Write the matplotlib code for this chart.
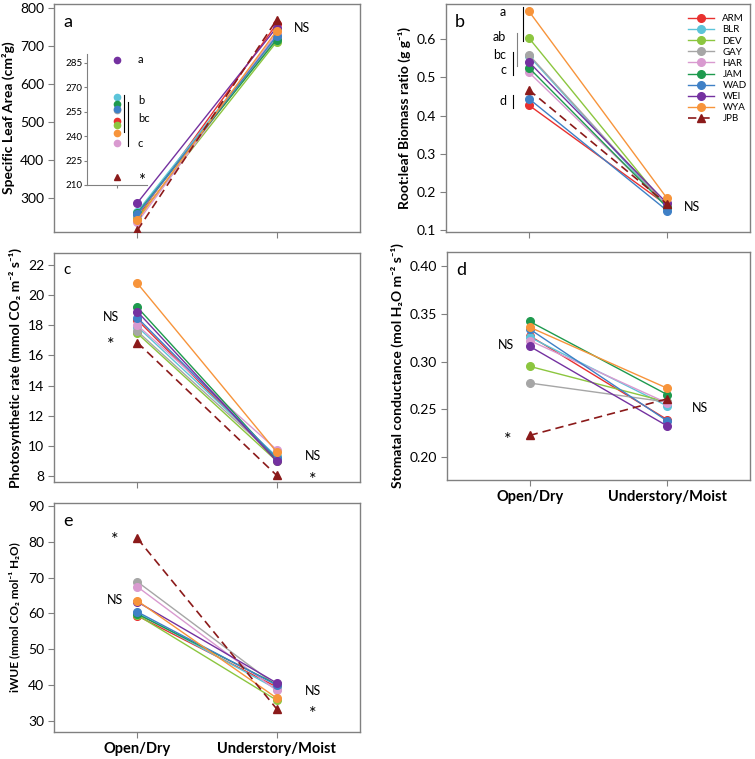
import numpy as np
import matplotlib
matplotlib.use('Agg')
from matplotlib import pyplot as plt

plt.rcParams['font.family'] = ['Lato', 'DejaVu Sans']

# Populations (last one is the reference JPB)
pops = ['ARM', 'BLR', 'DEV', 'GAY', 'HAR', 'JAM', 'WAD', 'WEI', 'WYA', 'JPB']
colors = ['#e8312f', '#5cc4d9', '#8cc63f', '#a6a6a6', '#d99ad0',
          '#1e9a4e', '#3f80c6', '#7431a0', '#f7943b', '#8b1a1a']
envs = ['Open/Dry', 'Understory/Moist']

# Values (open/dry, understory/moist)
sla_open = [249.6, 263.9, 246.6, 256.0, 235.7, 259.8, 257.0, 287.0, 242.0, 214.7]
sla_under = [757, 728, 710, 720, 733, 716, 725, 748, 739, 768]

rlr_open = [0.427, 0.556, 0.603, 0.559, 0.513, 0.525, 0.444, 0.540, 0.673, 0.467]
rlr_under = [0.165, 0.158, 0.160, 0.162, 0.163, 0.160, 0.151, 0.170, 0.183, 0.168]

ps_open = [18.35, 17.9, 17.46, 17.6, 18.0, 19.19, 18.5, 18.9, 20.78, 16.85]
ps_under = [9.1, 9.3, 9.0, 9.2, 9.75, 9.1, 9.2, 8.99, 9.6, 8.05]

gs_open = [0.327, 0.3256, 0.295, 0.2775, 0.322, 0.342, 0.334, 0.316, 0.336, 0.2227]
gs_under = [0.2391, 0.2534, 0.2576, 0.2576, 0.2565, 0.2653, 0.2377, 0.2325, 0.272, 0.261]

wue_open = [59.3, 60.1, 59.5, 68.8, 67.4, 59.8, 60.4, 63.2, 63.5, 80.9]
wue_under = [39.5, 38.9, 35.8, 39.8, 38.5, 40.2, 40.0, 40.6, 36.4, 33.4]

SPINE = '#808080'
W, H = 755, 759

fig = plt.figure(figsize=(7.55, 7.59), dpi=100)

def px_axes(x0, y0, x1, y1):
    # axes from pixel box (top-left origin)
    return fig.add_axes([x0 / W, 1 - y1 / H, (x1 - x0) / W, (y1 - y0) / H])

def style(ax):
    for s in ax.spines.values():
        s.set_color(SPINE)
        s.set_linewidth(1.0)
    ax.tick_params(direction='out', length=4, color=SPINE, labelsize=10, pad=3)
    ax.set_xlim(-0.6, 1.6)
    ax.set_xticks([0, 1])

def draw(ax, openv, underv, ms=5.5):
    for i, p in enumerate(pops):
        if p == 'JPB':
            ax.plot([0, 1], [openv[i], underv[i]], ls=(0, (5, 3)), color=colors[i],
                    marker='^', ms=ms, lw=1.2, label=p, zorder=3)
        else:
            ax.plot([0, 1], [openv[i], underv[i]], '-', color=colors[i],
                    marker='o', ms=ms, lw=1.0, label=p, zorder=2)

LAB = dict(fontsize=10, fontweight='bold', labelpad=4)
STAR = 13

# ---- a ----
axa = px_axes(54, 4, 360, 232)
style(axa)
draw(axa, sla_open, sla_under)
axa.set_ylim(210, 810)
axa.set_yticks([300, 400, 500, 600, 700, 800])
axa.set_xticklabels([])
axa.set_ylabel('Specific Leaf Area (cm²g)', **LAB)
axa.text(0.03, 0.955, 'a', transform=axa.transAxes, fontsize=13, va='top')
axa.text(1.18, 747, 'NS', fontsize=9, ha='center', va='center')

# inset of panel a
ins = px_axes(87, 54, 147, 185)
ins.set_facecolor('none')
for s in ['top', 'right']:
    ins.spines[s].set_visible(False)
for s in ['left', 'bottom']:
    ins.spines[s].set_color(SPINE)
ins.set_xlim(0, 1)
ins.set_ylim(210, 290.5)
ins.set_yticks([210, 225, 240, 255, 270, 285])
ins.set_xticks([0.5])
ins.set_xticklabels([])
ins.tick_params(labelsize=7, length=2, color=SPINE, pad=1)
for i, p in enumerate(pops):
    ins.plot([0.5], [sla_open[i]], marker='^' if p == 'JPB' else 'o',
             color=colors[i], ms=4.5, ls='none')
ins.plot([0.62, 0.62], [242.6, 265.3], color='k', lw=0.8)
ins.plot([0.68, 0.68], [234, 261], color='k', lw=0.8)
ins.text(0.85, 287, 'a', fontsize=8, va='center')
ins.text(0.85, 262, 'b', fontsize=8, va='center')
ins.text(0.85, 250.6, 'bc', fontsize=8, va='center')
ins.text(0.85, 235.8, 'c', fontsize=8, va='center')
ins.text(0.85, 212.5, '*', fontsize=12, va='center')

# ---- b ----
axb = px_axes(446, 4, 750, 232)
style(axb)
draw(axb, rlr_open, rlr_under)
axb.set_ylim(0.095, 0.692)
axb.set_yticks([0.1, 0.2, 0.3, 0.4, 0.5, 0.6])
axb.set_yticklabels(['0.1', '0.2', '0.3', '0.4', '0.5', '0.6'])
axb.set_xticklabels([])
axb.set_ylabel('Root:leaf Biomass ratio (g g⁻¹)', **LAB)
axb.text(0.03, 0.955, 'b', transform=axb.transAxes, fontsize=13, va='top')
axb.text(1.18, 0.16, 'NS', fontsize=9, ha='center', va='center')
axb.plot([-0.043, -0.043], [0.595, 0.684], color='k', lw=0.8)
axb.plot([-0.086, -0.086], [0.529, 0.616], color='#808080', lw=0.8)
axb.plot([-0.115, -0.115], [0.506, 0.566], color='k', lw=0.8)
axb.plot([-0.115, -0.115], [0.419, 0.453], color='k', lw=0.8)
for lab, yv in [('a', 0.671), ('ab', 0.605), ('bc', 0.558), ('c', 0.519), ('d', 0.438)]:
    axb.text(-0.165, yv, lab, fontsize=9, ha='right', va='center')
axb.legend(loc='upper left', bbox_to_anchor=(0.775, 0.985), frameon=False,
           fontsize=7, handlelength=2.6, labelspacing=0.22, handletextpad=0.9,
           borderpad=0.2)

# ---- c ----
axc = px_axes(54, 253, 360, 482)
style(axc)
draw(axc, ps_open, ps_under)
axc.set_ylim(7.6, 22.8)
axc.set_yticks(np.arange(8, 23, 2))
axc.set_xticklabels([])
axc.set_ylabel('Photosynthetic rate (mmol CO₂ m⁻² s⁻¹)', **LAB)
axc.text(0.03, 0.955, 'c', transform=axc.transAxes, fontsize=11, va='top')
axc.text(-0.19, 18.55, 'NS', fontsize=9, ha='center', va='center')
axc.text(-0.19, 16.7, '*', fontsize=STAR, ha='center', va='center')
axc.text(1.26, 9.33, 'NS', fontsize=9, ha='center', va='center')
axc.text(1.26, 7.75, '*', fontsize=STAR, ha='center', va='center')

# ---- d ----
axd = px_axes(447, 252, 750, 480)
style(axd)
draw(axd, gs_open, gs_under)
axd.set_ylim(0.176, 0.4147)
axd.set_yticks([0.20, 0.25, 0.30, 0.35, 0.40])
axd.set_yticklabels(['0.20', '0.25', '0.30', '0.35', '0.40'])
axd.set_xticklabels(envs, fontsize=10.5, fontweight='bold')
axd.tick_params(axis='x', pad=3)
axd.set_ylabel('Stomatal conductance (mol H₂O m⁻² s⁻¹)', **LAB)
axd.text(0.03, 0.955, 'd', transform=axd.transAxes, fontsize=13, va='top')
axd.text(-0.17, 0.317, 'NS', fontsize=9, ha='center', va='center')
axd.text(-0.16, 0.218, '*', fontsize=STAR, ha='center', va='center')
axd.text(1.24, 0.2513, 'NS', fontsize=9, ha='center', va='center')

# ---- e ----
axe = px_axes(54, 503, 360, 732)
style(axe)
draw(axe, wue_open, wue_under)
axe.set_ylim(26.9, 90.8)
axe.set_yticks(np.arange(30, 91, 10))
axe.set_xticklabels(envs, fontsize=10.5, fontweight='bold')
axe.tick_params(axis='x', pad=3)
axe.set_ylabel('iWUE (mmol CO₂ mol⁻¹ H₂O)', fontsize=8.5,
               fontweight='bold', labelpad=6)
axe.text(0.03, 0.955, 'e', transform=axe.transAxes, fontsize=13, va='top')
axe.text(-0.16, 80.5, '*', fontsize=STAR, ha='center', va='center')
axe.text(-0.16, 63.7, 'NS', fontsize=9, ha='center', va='center')
axe.text(1.26, 38.3, 'NS', fontsize=9, ha='center', va='center')
axe.text(1.26, 31.8, '*', fontsize=STAR, ha='center', va='center')

fig.savefig('out.png', dpi=100)
